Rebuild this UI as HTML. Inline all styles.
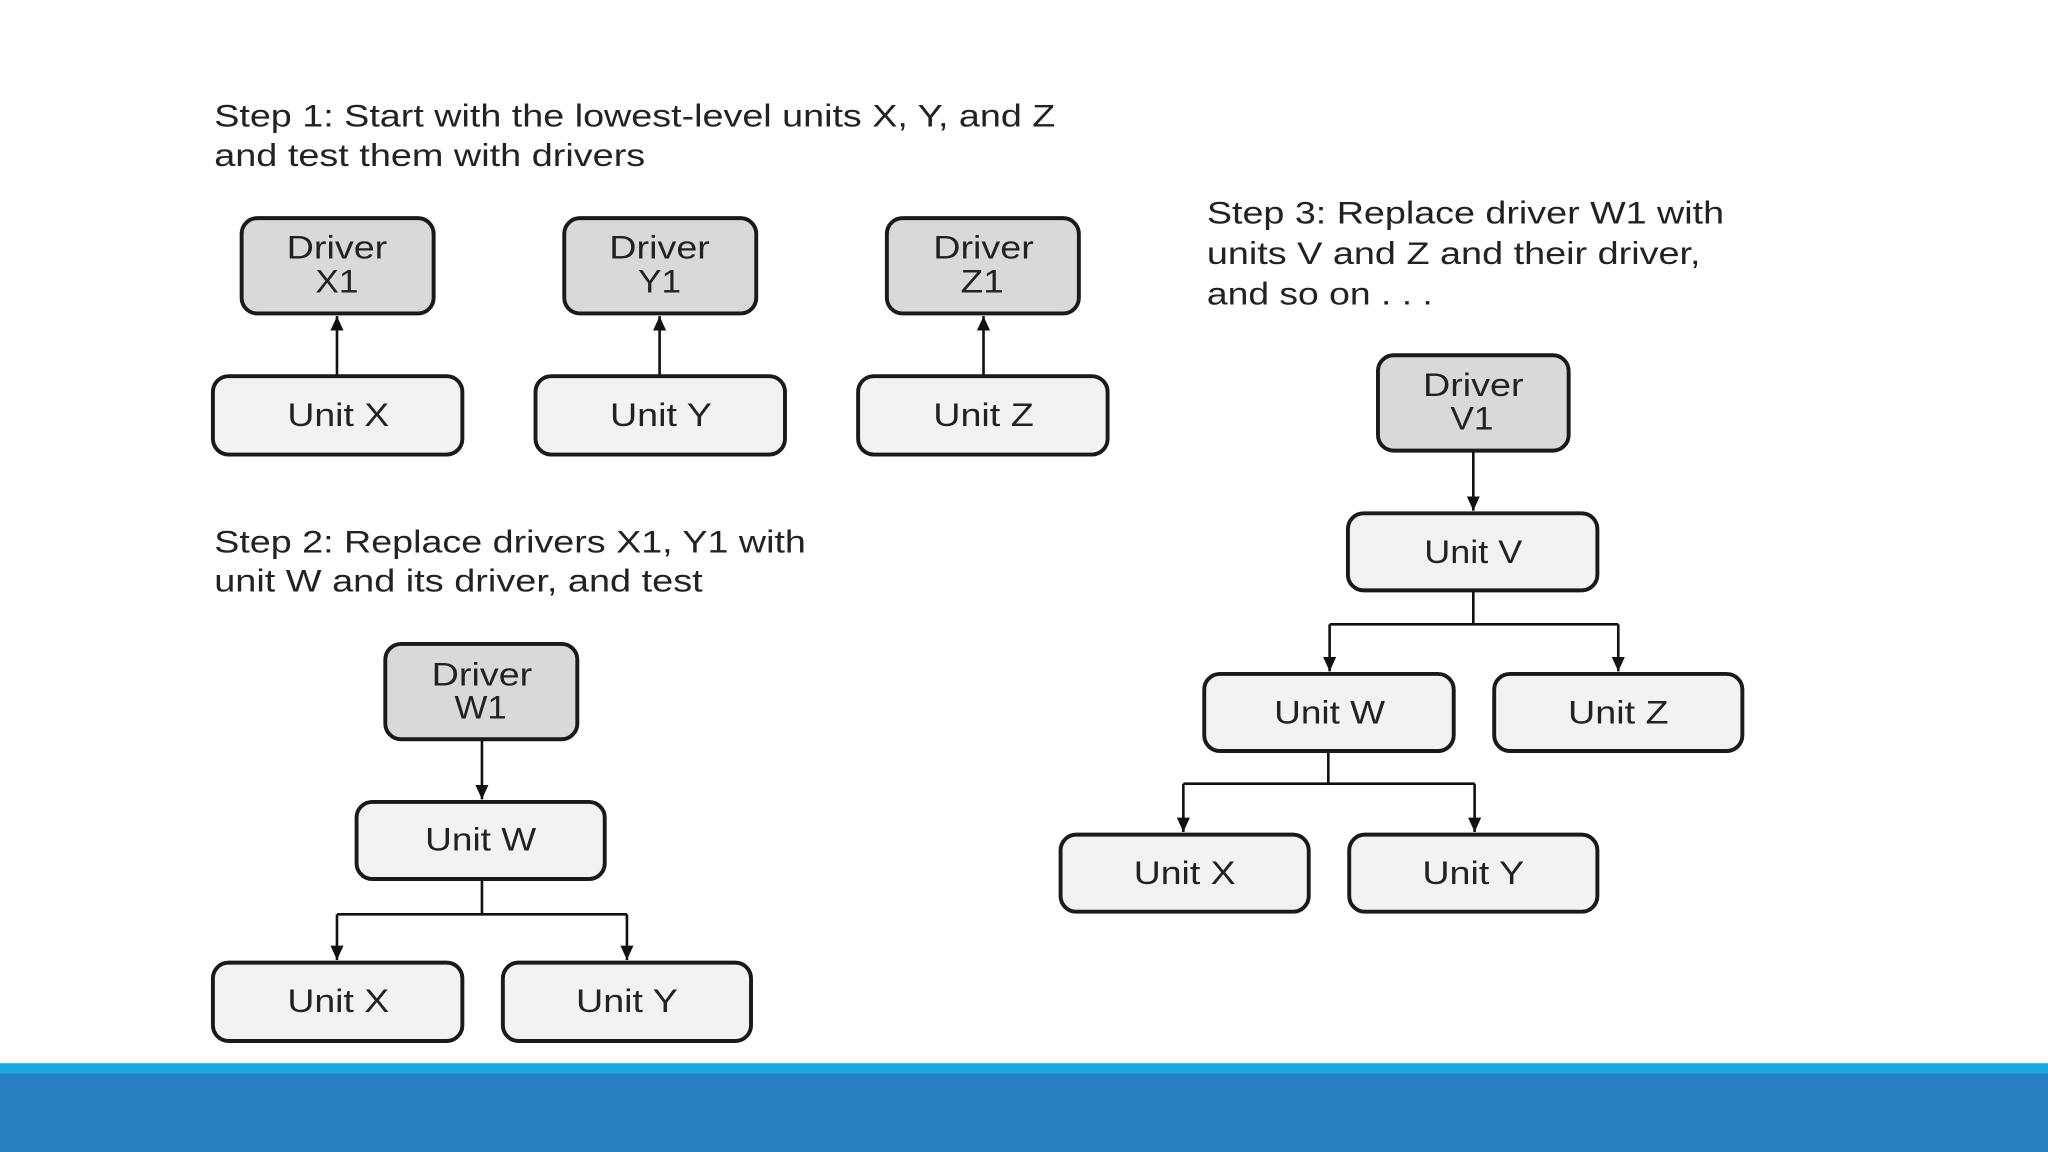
<!DOCTYPE html>
<html><head><style>html,body{margin:0;padding:0;background:#fff}svg{display:block}</style></head>
<body>
<svg width="2048" height="1152" viewBox="0 0 1568 882" xmlns="http://www.w3.org/2000/svg" font-family="Liberation Sans, sans-serif">
<defs><marker id="a" markerWidth="12" markerHeight="12" refX="11" refY="5" orient="auto" markerUnits="userSpaceOnUse"><path d="M0,0 L11,5 L0,10 z" fill="#111"/></marker></defs>
<rect x="0" y="0" width="1568" height="882" fill="#fff"/>
<g font-size="24" fill="#222" lengthAdjust="spacingAndGlyphs">
<text x="164" y="97" textLength="644" lengthAdjust="spacingAndGlyphs">Step 1: Start with the lowest-level units X, Y, and Z</text>
<text x="164" y="127" textLength="330" lengthAdjust="spacingAndGlyphs">and test them with drivers</text>
<text x="164" y="423" textLength="453" lengthAdjust="spacingAndGlyphs">Step 2: Replace drivers X1, Y1 with</text>
<text x="164" y="453" textLength="374" lengthAdjust="spacingAndGlyphs">unit W and its driver, and test</text>
<text x="924" y="171" textLength="396" lengthAdjust="spacingAndGlyphs">Step 3: Replace driver W1 with</text>
<text x="924" y="202" textLength="378" lengthAdjust="spacingAndGlyphs">units V and Z and their driver,</text>
<text x="924" y="233" textLength="173" lengthAdjust="spacingAndGlyphs">and so on . . .</text>
</g>
<g stroke="#111" stroke-width="2" fill="none">
<line x1="258" y1="288" x2="258" y2="242" marker-end="url(#a)"/>
<line x1="505" y1="288" x2="505" y2="242" marker-end="url(#a)"/>
<line x1="753" y1="288" x2="753" y2="242" marker-end="url(#a)"/>
<line x1="369" y1="566" x2="369" y2="612" marker-end="url(#a)"/>
<polyline points="369,673 369,700 258,700"/><line x1="258" y1="700" x2="258" y2="735" marker-end="url(#a)"/>
<polyline points="369,700 480,700"/><line x1="480" y1="700" x2="480" y2="735" marker-end="url(#a)"/>
<line x1="1128" y1="345" x2="1128" y2="391" marker-end="url(#a)"/>
<polyline points="1128,452 1128,478 1018,478 1239,478"/>
<line x1="1018" y1="478" x2="1018" y2="514" marker-end="url(#a)"/>
<line x1="1239" y1="478" x2="1239" y2="514" marker-end="url(#a)"/>
<polyline points="1017,575 1017,600 906,600 1129,600"/>
<line x1="906" y1="600" x2="906" y2="637" marker-end="url(#a)"/>
<line x1="1129" y1="600" x2="1129" y2="637" marker-end="url(#a)"/>
</g>
<g stroke="#1a1a1a" stroke-width="3">
<rect x="185" y="167" width="147" height="73" rx="12" fill="#d9d9d9"/>
<rect x="432" y="167" width="147" height="73" rx="12" fill="#d9d9d9"/>
<rect x="679" y="167" width="147" height="73" rx="12" fill="#d9d9d9"/>
<rect x="295" y="493" width="147" height="73" rx="12" fill="#d9d9d9"/>
<rect x="1055" y="272" width="146" height="73" rx="12" fill="#d9d9d9"/>
<rect x="163" y="288" width="191" height="60" rx="12" fill="#f2f2f2"/>
<rect x="410" y="288" width="191" height="60" rx="12" fill="#f2f2f2"/>
<rect x="657" y="288" width="191" height="60" rx="12" fill="#f2f2f2"/>
<rect x="273" y="614" width="190" height="59" rx="12" fill="#f2f2f2"/>
<rect x="163" y="737" width="191" height="60" rx="12" fill="#f2f2f2"/>
<rect x="385" y="737" width="190" height="60" rx="12" fill="#f2f2f2"/>
<rect x="1032" y="393" width="191" height="59" rx="12" fill="#f2f2f2"/>
<rect x="922" y="516" width="191" height="59" rx="12" fill="#f2f2f2"/>
<rect x="1144" y="516" width="190" height="59" rx="12" fill="#f2f2f2"/>
<rect x="812" y="639" width="190" height="59" rx="12" fill="#f2f2f2"/>
<rect x="1033" y="639" width="190" height="59" rx="12" fill="#f2f2f2"/>
</g>
<g font-size="25" fill="#222" text-anchor="middle">
<text x="258" y="198" textLength="77" lengthAdjust="spacingAndGlyphs">Driver</text><text x="258" y="224" textLength="33" lengthAdjust="spacingAndGlyphs">X1</text>
<text x="505" y="198" textLength="77" lengthAdjust="spacingAndGlyphs">Driver</text><text x="505" y="224" textLength="33" lengthAdjust="spacingAndGlyphs">Y1</text>
<text x="753" y="198" textLength="77" lengthAdjust="spacingAndGlyphs">Driver</text><text x="752" y="224" textLength="33" lengthAdjust="spacingAndGlyphs">Z1</text>
<text x="369" y="525" textLength="77" lengthAdjust="spacingAndGlyphs">Driver</text><text x="368" y="550" textLength="40" lengthAdjust="spacingAndGlyphs">W1</text>
<text x="1128" y="303" textLength="77" lengthAdjust="spacingAndGlyphs">Driver</text><text x="1127" y="329" textLength="33" lengthAdjust="spacingAndGlyphs">V1</text>
<text x="259" y="326" textLength="78" lengthAdjust="spacingAndGlyphs">Unit X</text>
<text x="506" y="326" textLength="78" lengthAdjust="spacingAndGlyphs">Unit Y</text>
<text x="753" y="326" textLength="77" lengthAdjust="spacingAndGlyphs">Unit Z</text>
<text x="368" y="651" textLength="85" lengthAdjust="spacingAndGlyphs">Unit W</text>
<text x="259" y="775" textLength="78" lengthAdjust="spacingAndGlyphs">Unit X</text>
<text x="480" y="775" textLength="78" lengthAdjust="spacingAndGlyphs">Unit Y</text>
<text x="1128" y="431" textLength="75" lengthAdjust="spacingAndGlyphs">Unit V</text>
<text x="1018" y="554" textLength="85" lengthAdjust="spacingAndGlyphs">Unit W</text>
<text x="1239" y="554" textLength="77" lengthAdjust="spacingAndGlyphs">Unit Z</text>
<text x="907" y="677" textLength="78" lengthAdjust="spacingAndGlyphs">Unit X</text>
<text x="1128" y="677" textLength="78" lengthAdjust="spacingAndGlyphs">Unit Y</text>
</g>
<rect x="0" y="814" width="1568" height="9" fill="#1ba9e0"/>
<rect x="0" y="822" width="1568" height="60" fill="#2880c3"/>
</svg>
</body></html>
